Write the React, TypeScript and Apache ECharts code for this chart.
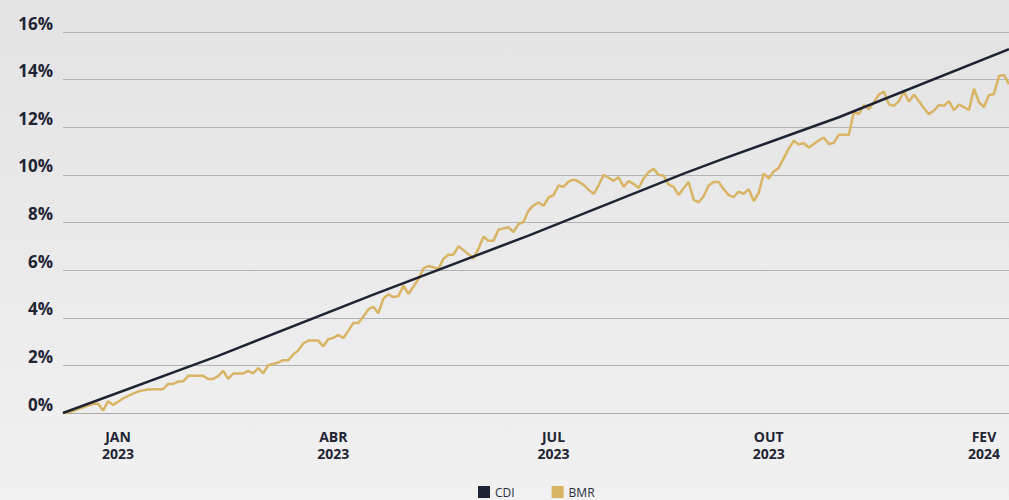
import React, { useEffect, useRef } from "react";
import * as echarts from "echarts";

// BMR cumulative return (%), one value per trading day
const bmr: number[] = [
  0.0, 0.02, 0.08, 0.16, 0.24, 0.31, 0.38, 0.4, 0.1, 0.49,
  0.34, 0.47, 0.61, 0.71, 0.81, 0.9, 0.95, 0.99, 1.0, 1.0,
  1.0, 1.22, 1.22, 1.32, 1.33, 1.56, 1.56, 1.56, 1.56, 1.43,
  1.43, 1.55, 1.77, 1.43, 1.66, 1.66, 1.66, 1.77, 1.66, 1.88,
  1.66, 2.01, 2.06, 2.12, 2.22, 2.22, 2.45, 2.63, 2.92, 3.04,
  3.04, 3.04, 2.8, 3.1, 3.15, 3.28, 3.15, 3.45, 3.78, 3.78,
  4.05, 4.35, 4.46, 4.19, 4.8, 4.98, 4.87, 4.9, 5.35, 5.0,
  5.3, 5.62, 6.07, 6.17, 6.12, 6.05, 6.47, 6.65, 6.65, 7.0,
  6.84, 6.67, 6.49, 6.9, 7.4, 7.23, 7.23, 7.7, 7.75, 7.8,
  7.6, 7.93, 8.02, 8.5, 8.72, 8.84, 8.7, 9.05, 9.15, 9.55,
  9.5, 9.72, 9.8, 9.72, 9.58, 9.38, 9.2, 9.55, 10.0, 9.88,
  9.75, 9.9, 9.5, 9.74, 9.62, 9.45, 9.85, 10.12, 10.25, 10.0,
  9.97, 9.59, 9.5, 9.15, 9.45, 9.7, 8.95, 8.85, 9.1, 9.55,
  9.7, 9.7, 9.4, 9.15, 9.07, 9.3, 9.2, 9.4, 8.9, 9.25,
  10.05, 9.85, 10.14, 10.3, 10.7, 11.1, 11.43, 11.28, 11.33, 11.15,
  11.3, 11.45, 11.57, 11.3, 11.35, 11.68, 11.68, 11.68, 12.65, 12.55,
  12.93, 12.75, 13.05, 13.37, 13.5, 12.96, 12.9, 13.1, 13.5, 13.07,
  13.37, 13.1, 12.8, 12.55, 12.7, 12.93, 12.9, 13.1, 12.72, 12.95,
  12.85, 12.72, 13.62, 13.05, 12.85, 13.35, 13.4, 14.15, 14.2, 13.81,
];

// CDI cumulative return (%) at selected trading days [dayIndex, value]
const cdiDays: number[] = [0, 31, 62, 93, 124, 132, 155, 189];
const cdiValues: number[] = [0, 2.4, 4.97, 7.45, 10.05, 10.68, 12.42, 15.28];

const days: string[] = bmr.map((_, i) => String(i));

const tickDays: number[] = [11, 54, 98, 141, 184];
const tickLabels: string[] = ["JAN\n2023", "ABR\n2023", "JUL\n2023", "OUT\n2023", "FEV\n2024"];

const yTicks = { min: 0, max: 16, interval: 2 };

const NAVY = "#1f2434";
const GOLD = "#d9b464";

export default function App() {
  const ref = useRef<HTMLDivElement>(null);

  useEffect(() => {
    if (!ref.current) return;
    const chart = echarts.init(ref.current, undefined, { renderer: "svg" });
    chart.setOption({
      animation: false,
      backgroundColor: "transparent",
      grid: { left: 63, right: 0, top: 32, bottom: 87, containLabel: false },
      legend: {
        left: 478,
        top: 486,
        padding: 0,
        itemWidth: 12,
        itemHeight: 12,
        itemGap: 37,
        icon: "rect",
        textStyle: {
          fontFamily: "Open Sans",
          fontSize: 12,
          lineHeight: 12,
          color: "#2a2f3d",
        },
        data: ["CDI", "BMR"],
      },
      xAxis: {
        type: "category",
        data: days,
        boundaryGap: false,
        axisLine: { show: true, lineStyle: { color: "#a9a9a9", width: 1 } },
        axisTick: { show: false },
        splitLine: { show: false },
        axisLabel: {
          interval: (idx: number) => tickDays.includes(idx),
          formatter: (_v: string, idx: number) => {
            const k = tickDays.indexOf(idx);
            return k >= 0 ? tickLabels[k] : "";
          },
          margin: 15,
          fontFamily: "Open Sans",
          fontWeight: "bold",
          fontSize: 14,
          lineHeight: 17,
          color: NAVY,
        },
      },
      yAxis: {
        type: "value",
        min: yTicks.min,
        max: yTicks.max,
        interval: yTicks.interval,
        axisLine: { show: false },
        axisTick: { show: false },
        splitLine: { lineStyle: { color: "#b3b3b3", width: 1 } },
        axisLabel: {
          formatter: "{value}%",
          margin: 10,
          verticalAlign: "bottom",
          fontFamily: "Open Sans",
          fontWeight: "bold",
          fontSize: 17,
          lineHeight: 18,
          color: NAVY,
        },
      },
      series: [
        {
          name: "CDI",
          type: "line",
          data: cdiDays.map((d, i) => [d, cdiValues[i]]),
          showSymbol: false,
          symbol: "none",
          lineStyle: { color: NAVY, width: 2.5 },
          itemStyle: { color: NAVY },
          z: 3,
        },
        {
          name: "BMR",
          type: "line",
          data: bmr,
          showSymbol: false,
          symbol: "none",
          lineStyle: { color: GOLD, width: 2.5 },
          itemStyle: { color: GOLD },
          z: 2,
        },
      ],
    });
    return () => chart.dispose();
  }, []);

  return (
    <div
      style={{
        position: "fixed",
        left: 0,
        top: 0,
        width: 1009,
        height: 500,
        background: "linear-gradient(180deg, #e3e3e3 0%, #f1f1f1 100%)",
        overflow: "hidden",
      }}
    >
      <div ref={ref} style={{ width: 1009, height: 500 }} />
    </div>
  );
}
